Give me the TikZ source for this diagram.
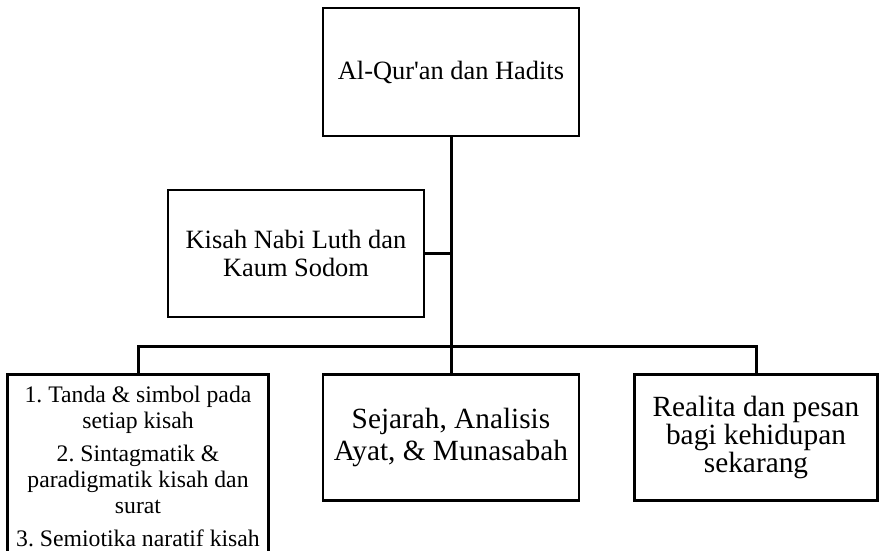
\documentclass[tikz,border=0pt]{standalone}
\usepackage{fontspec}
\setmainfont{Liberation Serif}
\usetikzlibrary{positioning,calc}
\definecolor{FrameBlack}{HTML}{000000}
\frenchspacing

\begin{document}
\begin{tikzpicture}[node distance=52pt]
    \tikzset{frame/.style={draw=FrameBlack,line width=2.5pt,align=center,inner sep=0pt,minimum width=256pt},
      link/.style={draw=FrameBlack,line width=3pt}}
    \useasboundingbox (0,0) rectangle (879pt,-550pt);
    \node[frame,minimum height=128pt,font=\fontsize{26.4}{29}\selectfont] (quran) at (451pt,-72pt)
      {Al-Qur\textquotesingle an dan Hadits};
    \node[frame,minimum height=127pt,font=\fontsize{26.4}{28}\selectfont] (kisah) at (296pt,-253.5pt)
      {Kisah Nabi Luth dan\\Kaum Sodom};
    \node[frame,minimum height=126pt,font=\fontsize{29.3}{32}\selectfont,below=236pt of quran] (sejarah)
      {Sejarah, Analisis\\Ayat, \& Munasabah};
    \node[frame,minimum width=261pt,minimum height=184pt,font=\fontsize{23.7}{26}\selectfont,
      left=of sejarah.north west,anchor=north east] (tanda)
      {1. Tanda \& simbol pada\\setiap kisah\\[7pt]2. Sintagmatik \&\\paradigmatik kisah dan\\surat\\[7pt]3. Semiotika naratif kisah};
    \node[frame,minimum width=243pt,minimum height=126pt,font=\fontsize{29.3}{28.4}\selectfont,
      right=53pt of sejarah.north east,anchor=north west] (realita)
      {Realita dan pesan\\bagi kehidupan\\sekarang};
    \coordinate (split) at ($(quran.south)+(0,-209pt)$);
    \draw[link] (quran.south) -- (split) -- (sejarah.north);
    \draw[link] (kisah.east) -- (kisah.east -| quran.south);
    \draw[link] (tanda.north) |- (split) -| (realita.north);
\end{tikzpicture}
\end{document}
